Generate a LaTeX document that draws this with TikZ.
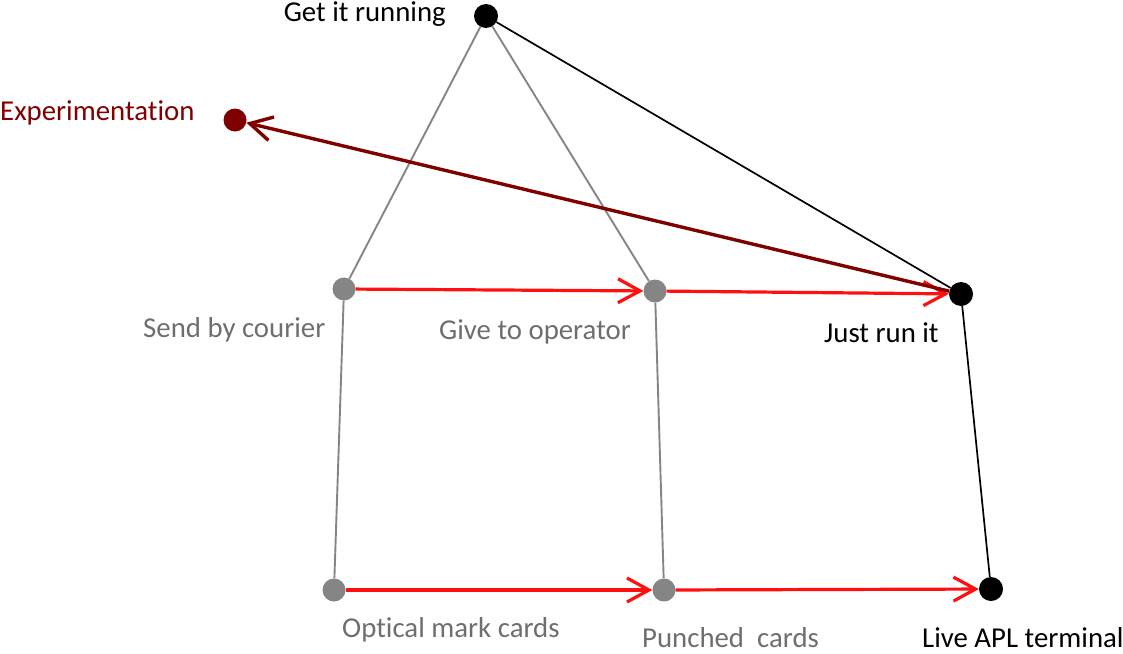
\documentclass[tikz,border=0pt]{standalone}
\usepackage{fontspec}
\setmainfont{Carlito}[Ligatures=NoCommon]
\usetikzlibrary{arrows.meta}
\definecolor{dkred}{HTML}{800000}
\definecolor{ndgray}{HTML}{858585}
\definecolor{lbgray}{HTML}{6E6E6E}
\definecolor{rd}{HTML}{FF1010}
\begin{document}
\begin{tikzpicture}[x=1pt,y=-1pt,
  dot/.style={circle,inner sep=0pt,minimum size=23pt},
  gdot/.style={dot,fill=ndgray},
  bdot/.style={dot,fill=black,minimum size=24pt},
  rdot/.style={dot,fill=dkred},
  lbl/.style={font=\fontsize{28.8}{30}\selectfont,inner sep=0pt},
  gline/.style={draw=ndgray,line width=1.9pt},
  bline/.style={draw=black,line width=1.7pt},
  rarrow/.style={draw=rd,line width=3.2pt,-{Straight Barb[length=22pt,width=24pt,line width=3.2pt]}},
  darrow/.style={draw=dkred,line width=3.4pt,-{Straight Barb[length=22pt,width=24pt,line width=3.4pt]}}
]
\useasboundingbox (0,0) rectangle (1123,653);
\node[bdot] (run) at (486,16) {};
\node[rdot] (exp) at (235,120) {};
\node[gdot] (send) at (344,289) {};
\node[gdot] (give) at (655,291) {};
\node[bdot] (just) at (961,294) {};
\node[gdot] (opt) at (334,590) {};
\node[gdot] (punch) at (664,590) {};
\node[bdot] (live) at (991,589) {};

\node[lbl,anchor=east] (lrun) at (446,14) {Get it running};
\node[lbl,anchor=west,text=dkred] (lexp) at (0,113) {Experimentation};
\node[lbl,anchor=west,text=lbgray] (lsend) at (143,330) {Send by courier};
\node[lbl,anchor=west,text=lbgray] (lgive) at (439,332) {Give to operator};
\node[lbl,anchor=west] (ljust) at (824,333) {Just run it};
\node[lbl,anchor=west,text=lbgray] (lopt) at (342,630) {Optical mark cards};
\node[lbl,anchor=west,text=lbgray] (lpunch) at (642,638) {Punched\ \ cards};
\node[lbl,anchor=west] (llive) at (922,638) {Live APL terminal};

\draw[gline] (run) -- (send);
\draw[gline] (run) -- (give);
\draw[gline] (send) -- (opt);
\draw[gline] (give) -- (punch);
\draw[bline] (run) -- (just);
\draw[bline] (just) -- (live);
\draw[rarrow] (send) -- (give);
\draw[rarrow] (give) -- (just);
\draw[rarrow] (opt) -- (punch);
\draw[rarrow] (punch) -- (live);
\draw[darrow] (just) -- (exp);
\end{tikzpicture}
\end{document}
